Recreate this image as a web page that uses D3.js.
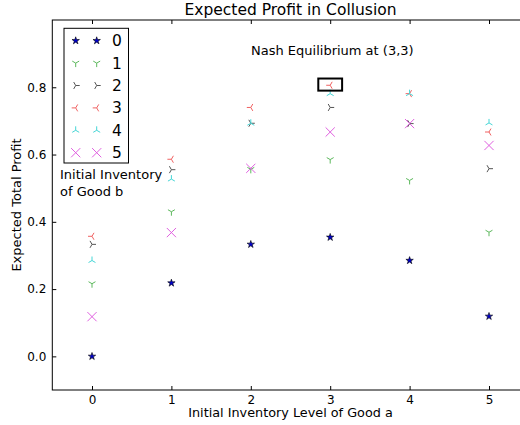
<!DOCTYPE html>
<html><head><meta charset="utf-8">
<script src="https://cdn.jsdelivr.net/npm/d3@7"></script>
<style>body{margin:0;background:#fff;}svg{display:block;font-family:"DejaVu Sans",sans-serif;}</style>
</head><body>
<svg id="c" width="520" height="425"></svg>
<script>
const categories = [0, 1, 2, 3, 4, 5];
const seriesNames = ["0", "1", "2", "3", "4", "5"];
const series0 = [0.000, 0.218, 0.333, 0.354, 0.285, 0.119];
const series1 = [0.216, 0.430, 0.556, 0.585, 0.523, 0.369];
const series2 = [0.333, 0.555, 0.693, 0.740, 0.692, 0.558];
const series3 = [0.357, 0.586, 0.740, 0.806, 0.781, 0.667];
const series4 = [0.285, 0.527, 0.693, 0.781, 0.781, 0.694];
const series5 = [0.118, 0.368, 0.559, 0.667, 0.692, 0.627];
const xTicks = [0, 1, 2, 3, 4, 5];
const yTicks = [0.0, 0.2, 0.4, 0.6, 0.8];
const nashBox = {x: 2.85, y: 0.79, w: 0.3, h: 0.036};

const allSeries = [series0, series1, series2, series3, series4, series5];
const colors = ["#0000cc", "#5cb85c", "#555555", "#f06262", "#45d6d6", "#e060e0"];
const markers = ["star", "tri_down", "tri_right", "tri_left", "tri_up", "x"];

const svg = d3.select("#c");
const L = 52.3, R = 528.7, T = 20, B = 390;
const x = d3.scaleLinear().domain([-0.5, 5.5]).range([L, R]);
const y = d3.scaleLinear().domain([-0.1, 1.0]).range([B, T]);

function markerPath(type) {
  const r = 4;
  if (type === "star") return d3.symbol().type(d3.symbolStar).size(17)();
  if (type === "x") { const q = 4.6; return `M${-q},${-q}L${q},${q}M${-q},${q}L${q},${-q}`; }
  const pts = [[0, 1], [0.866, -0.5], [-0.866, -0.5]];
  let ang = 0;
  if (type === "tri_up") ang = 180;
  if (type === "tri_left") ang = 90;
  if (type === "tri_right") ang = -90;
  const a = ang * Math.PI / 180;
  let d = "";
  pts.forEach(p => {
    const px = (p[0] * Math.cos(a) - p[1] * Math.sin(a)) * r;
    const py = (p[0] * Math.sin(a) + p[1] * Math.cos(a)) * r;
    d += `M0,0L${px.toFixed(2)},${py.toFixed(2)}`;
  });
  return d;
}
function drawMarker(g, i, cx, cy) {
  const p = g.append("path").attr("d", markerPath(markers[i])).attr("transform", `translate(${cx},${cy})`);
  if (markers[i] === "star") p.attr("fill", colors[i]).attr("stroke", "#000").attr("stroke-width", 0.6);
  else p.attr("fill", "none").attr("stroke", colors[i]).attr("stroke-width", 1);
}

svg.append("rect").attr("x", L).attr("y", T).attr("width", R - L).attr("height", B - T)
  .attr("fill", "none").attr("stroke", "#000").attr("stroke-width", 1);

const ax = svg.append("g").attr("transform", `translate(0,${B})`)
  .call(d3.axisBottom(x).tickValues(xTicks).tickFormat(d3.format("d")).tickSize(-4).tickPadding(5));
const axTop = svg.append("g").attr("transform", `translate(0,${T})`)
  .call(d3.axisTop(x).tickValues(xTicks).tickFormat("").tickSize(-4));
const ay = svg.append("g").attr("transform", `translate(${L},0)`)
  .call(d3.axisLeft(y).tickValues(yTicks).tickFormat(d3.format(".1f")).tickSize(-4).tickPadding(6));
[ax, axTop, ay].forEach(g => {
  g.select(".domain").remove();
  g.selectAll("text").attr("font-size", 12).attr("font-family", "DejaVu Sans").attr("fill", "#000");
  g.selectAll("line").attr("stroke", "#000");
});

const pts = svg.append("g");
allSeries.forEach((s, i) => {
  s.forEach((v, j) => drawMarker(pts, i, x(categories[j]), y(v)));
});

svg.append("rect").attr("x", x(nashBox.x)).attr("y", y(nashBox.y + nashBox.h))
  .attr("width", x(nashBox.x + nashBox.w) - x(nashBox.x)).attr("height", y(nashBox.y) - y(nashBox.y + nashBox.h))
  .attr("fill", "none").attr("stroke", "#000").attr("stroke-width", 2);
svg.append("text").attr("x", 251).attr("y", 55).attr("font-size", 13).text("Nash Equilibrium at (3,3)");

svg.append("text").attr("x", (L + R) / 2).attr("y", 15).attr("text-anchor", "middle").attr("font-size", 15.5).text("Expected Profit in Collusion");
svg.append("text").attr("x", (L + R) / 2).attr("y", 417).attr("text-anchor", "middle").attr("font-size", 12.8).text("Initial Inventory Level of Good a");
svg.append("text").attr("transform", `translate(21,${(T + B) / 2}) rotate(-90)`).attr("text-anchor", "middle").attr("font-size", 13).text("Expected Total Profit");

const lg = svg.append("g");
lg.append("rect").attr("x", 64).attr("y", 28.3).attr("width", 64.5).attr("height", 134.7)
  .attr("fill", "#fff").attr("stroke", "#000").attr("stroke-width", 1);
seriesNames.forEach((n, i) => {
  const yy = 40.7 + i * 22.4;
  drawMarker(lg, i, 75.7, yy);
  drawMarker(lg, i, 96.7, yy);
  lg.append("text").attr("x", 112).attr("y", yy + 5.5).attr("font-size", 15.5).text(n);
});
svg.append("text").attr("x", 60).attr("y", 179).attr("font-size", 13).text("Initial Inventory");
svg.append("text").attr("x", 60).attr("y", 196).attr("font-size", 13).text("of Good b");
</script>
</body></html>
